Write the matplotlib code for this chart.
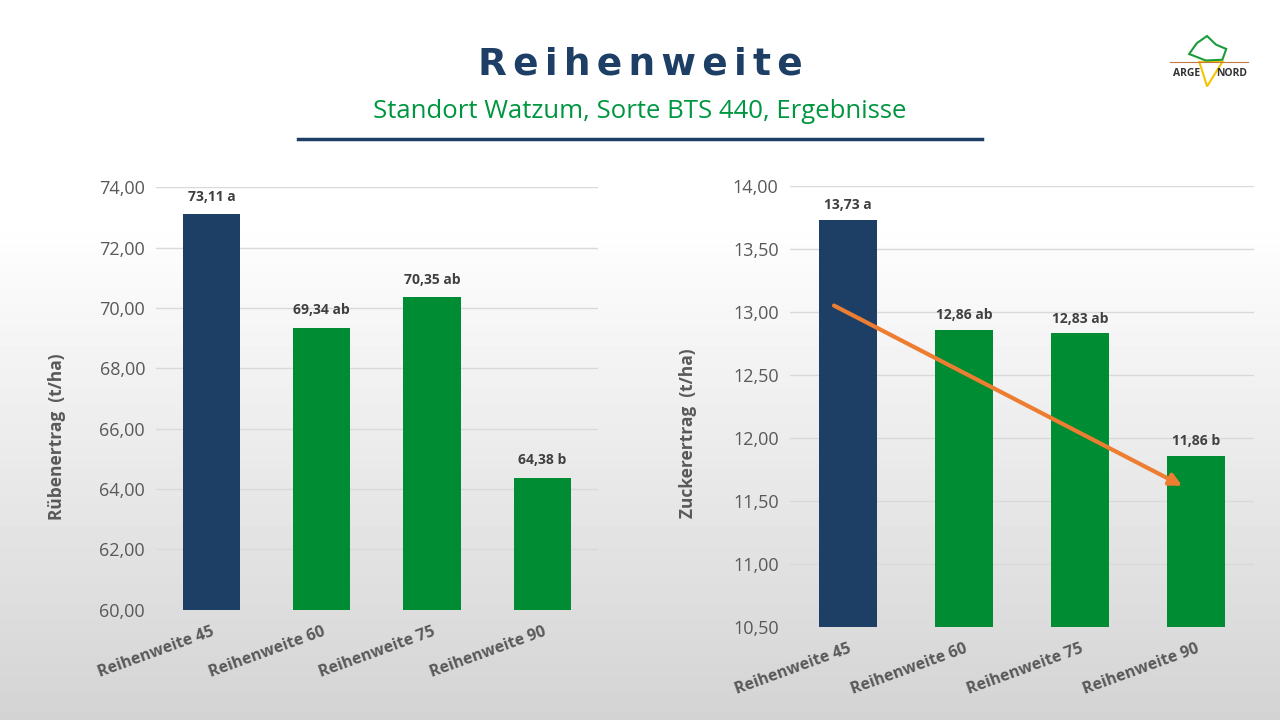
import numpy as np
import matplotlib
matplotlib.use("Agg")
import matplotlib.pyplot as plt
from matplotlib.patches import Polygon

# Daten
kategorien = ['Reihenweite 45', 'Reihenweite 60', 'Reihenweite 75', 'Reihenweite 90']
ruebenertrag = [73.11, 69.34, 70.35, 64.38]
zuckerertrag = [13.73, 12.86, 12.83, 11.86]
buchstaben_r = ['a', 'ab', 'ab', 'b']
buchstaben_z = ['a', 'ab', 'ab', 'b']
trend_x = [-0.14, 2.9]
trend_y = [13.06, 11.61]

blau = '#1d3f66'
gruen = '#008c33'
grau = '#595959'

plt.rcParams['font.family'] = ['Open Sans', 'DejaVu Sans']

fig = plt.figure(figsize=(12.8, 7.2), dpi=100)

# Hintergrund mit Verlauf
bg = fig.add_axes([0, 0, 1, 1], zorder=-10)
verlauf = np.concatenate([np.ones(30), np.linspace(1.0, 0.83, 70)])[:, None]
bg.imshow(verlauf, cmap='gray', vmin=0, vmax=1, aspect='auto', extent=[0, 1, 0, 1])
bg.set_axis_off()

# Titel
fig.text(0.5, 0.91, '\u2006'.join('Reihenweite'), ha='center', va='center',
         fontsize=27, fontweight='bold', color=blau, family='DejaVu Sans')
fig.text(0.5, 0.845, 'Standort Watzum, Sorte BTS 440, Ergebnisse', ha='center', va='center',
         fontsize=18.5, color='#009640')
fig.add_artist(plt.Line2D([0.233, 0.767], [0.807, 0.807], color=blau, lw=2.5))

# Logo (vereinfacht)
fig.text(0.927, 0.898, 'ARGE', ha='center', va='center', fontsize=7.5, fontweight='bold', color='#333333')
fig.text(0.962, 0.898, 'NORD', ha='center', va='center', fontsize=7.5, fontweight='bold', color='#333333')
fig.add_artist(Polygon([[0.937, 0.914], [0.955, 0.914], [0.943, 0.880]], closed=True,
                       transform=fig.transFigure, facecolor='none', edgecolor='#f5c400', lw=1.5))
fig.add_artist(Polygon([[0.929, 0.925], [0.935, 0.940], [0.943, 0.950], [0.950, 0.938],
                        [0.958, 0.932], [0.955, 0.917], [0.942, 0.916]], closed=True,
                       transform=fig.transFigure, facecolor='none', edgecolor='#1a9c3a', lw=1.5))
fig.add_artist(plt.Line2D([0.914, 0.975], [0.914, 0.914], color='#c8783c', lw=0.8))


def balken(ax, werte, buchst, ymin, ymax, schritt, breite, ylabel, offset, label_pos):
    farben = [blau] + [gruen] * (len(werte) - 1)
    x = np.arange(len(werte))
    ax.bar(x, [w - ymin for w in werte], bottom=ymin, width=breite, color=farben, zorder=3)
    for xi, w, b in zip(x, werte, buchst):
        ax.text(xi, w + offset, f'{w:.2f}'.replace('.', ',') + ' ' + b, ha='center', va='bottom',
                fontsize=10, fontweight='bold', color='#404040')
    ax.set_xlim(-0.5, len(werte) - 0.5)
    ax.set_ylim(ymin, ymax)
    ticks = np.arange(ymin, ymax + schritt / 2, schritt)
    ax.set_yticks(ticks)
    ax.set_yticklabels([f'{t:.2f}'.replace('.', ',') for t in ticks], fontsize=13, color=grau)
    ax.set_xticks(x)
    ax.set_xticklabels(kategorien, rotation=20, ha='right', rotation_mode='anchor',
                       fontsize=11.5, fontweight='bold', color=grau)
    ax.grid(axis='y', color='#d9d9d9', lw=1, zorder=0)
    ax.tick_params(length=0, pad=8)
    ax.tick_params(axis='x', pad=10)
    for s in ax.spines.values():
        s.set_visible(False)
    ax.patch.set_alpha(0)
    ax.set_ylabel(ylabel, fontsize=12.5, fontweight='bold', color=grau)
    ax.yaxis.set_label_coords(*label_pos)


ax1 = fig.add_axes([0.122, 0.153, 0.345, 0.587])
balken(ax1, ruebenertrag, buchstaben_r, 60, 74, 2, 0.52, 'Rübenertrag  (t/ha)', 0.35, (-0.205, 0.41))

ax2 = fig.add_axes([0.617, 0.129, 0.363, 0.613])
balken(ax2, zuckerertrag, buchstaben_z, 10.5, 14, 0.5, 0.5, 'Zuckerertrag  (t/ha)', 0.06, (-0.2, 0.44))
ax2.annotate('', xy=(trend_x[1], trend_y[1]), xytext=(trend_x[0], trend_y[0]),
             arrowprops=dict(arrowstyle='-|>', color='#ed7d31', lw=3, mutation_scale=18), zorder=5)

fig.savefig('out.png', dpi=100)
